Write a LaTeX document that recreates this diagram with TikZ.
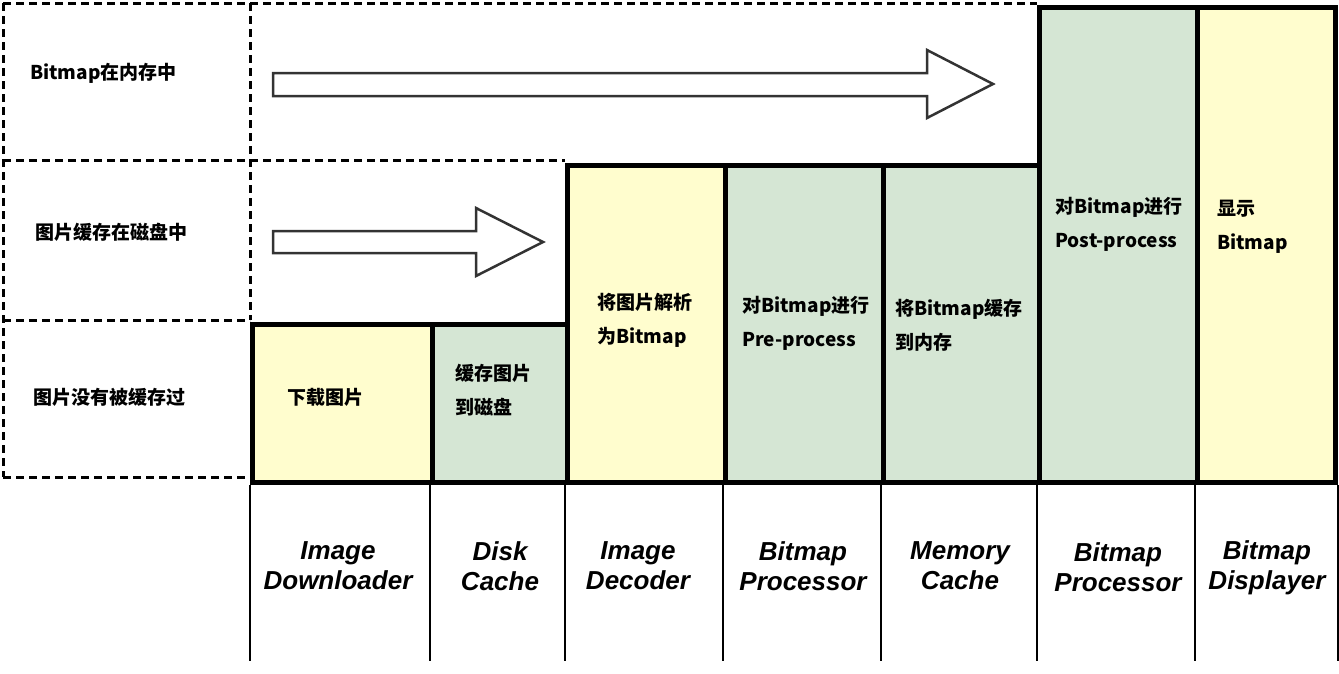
\documentclass[tikz,border=0pt]{standalone}
\usepackage{fontspec}
\setmainfont{Noto Sans CJK SC}
\newfontfamily\labelfont{Liberation Sans}
\definecolor{cell_yellow}{RGB}{255,253,206}
\definecolor{cell_green}{RGB}{213,230,212}

\begin{document}
\begin{tikzpicture}[x=1pt,y=-1pt,
	cell_node/.style={rectangle,draw,line width=5pt,anchor=north west,inner sep=0pt},
	step_text/.style={anchor=west,align=left,inner sep=0pt,font=\fontsize{19}{34}\selectfont\bfseries},
	name_text/.style={align=center,inner sep=0pt,font=\labelfont\fontsize{26}{30}\selectfont\bfseries\itshape},
	level_line/.style={draw,line width=3pt,dash pattern=on 8pt off 5pt},
	big_arrow/.style={draw=black!80,line width=2.5pt,fill=white,line join=miter}]
				\useasboundingbox (0,0) rectangle (1339,673);

				% dashed frame of the three levels
				\path[level_line]
				(3,3) -- (1037,3)
				(3,3) -- (3,477)
				(3,160) -- (565,160)
				(3,320) -- (250,320)
				(3,477) -- (250,477)
				(250,3) -- (250,320)
				;

				\node[step_text] (l1) at (30,73) {Bitmap在内存中};
				\node[step_text] (l2) at (35,232) {图片缓存在磁盘中};
				\node[step_text] (l3) at (33,397) {图片没有被缓存过};

				% hollow arrows
				\draw[big_arrow] (273,73) -- (927,73) -- (927,50) -- (993,84) -- (927,118) -- (927,96) -- (273,96) -- cycle;
				\draw[big_arrow] (273,231) -- (476,231) -- (476,208) -- (543,242) -- (476,276) -- (476,253) -- (273,253) -- cycle;

				% stage cells
				\node[cell_node,fill=cell_yellow,minimum width=180pt,minimum height=158pt] (1) at (250,322){};
				\node[cell_node,fill=cell_green,minimum width=135pt,minimum height=158pt] (2) at (430,322){};
				\node[cell_node,fill=cell_yellow,minimum width=158pt,minimum height=317pt] (3) at (565,163){};
				\node[cell_node,fill=cell_green,minimum width=158pt,minimum height=317pt] (4) at (723,163){};
				\node[cell_node,fill=cell_green,minimum width=156pt,minimum height=317pt] (5) at (881,163){};
				\node[cell_node,fill=cell_green,minimum width=158pt,minimum height=475pt] (6) at (1037,5){};
				\node[cell_node,fill=cell_yellow,minimum width=138pt,minimum height=475pt] (7) at (1195,5){};

				\node[step_text] (t1) at (287,397) {下载图片};
				\node[step_text] (t2) at (455,390) {缓存图片\\到磁盘};
				\node[step_text] (t3) at (597,320) {将图片解析\\为Bitmap};
				\node[step_text] (t4) at (742,323) {对Bitmap进行\\Pre-process};
				\node[step_text] (t5) at (895,325) {将Bitmap缓存\\到内存};
				\node[step_text] (t6) at (1055,224) {对Bitmap进行\\Post-process};
				\node[step_text] (t7) at (1217,227) {显示\\Bitmap};

				% component names below the cells
				\path[draw,line width=2pt]
				(1.south west) -- ++(0,176)
				(2.south west) -- ++(0,176)
				(3.south west) -- ++(0,176)
				(4.south west) -- ++(0,176)
				(5.south west) -- ++(0,176)
				(6.south west) -- ++(0,176)
				(7.south west) -- ++(0,176)
				(7.south east) -- ++(0,176)
				;

				\node[name_text] (n1) at (338,566) {Image\\Downloader};
				\node[name_text] (n2) at (500,566) {Disk\\Cache};
				\node[name_text] (n3) at (638,566) {Image\\Decoder};
				\node[name_text] (n4) at (803,566) {Bitmap\\Processor};
				\node[name_text] (n5) at (960,566) {Memory\\Cache};
				\node[name_text] (n6) at (1118,567) {Bitmap\\Processor};
				\node[name_text] (n7) at (1267,568) {Bitmap\\Displayer};
\end{tikzpicture}
\end{document}
